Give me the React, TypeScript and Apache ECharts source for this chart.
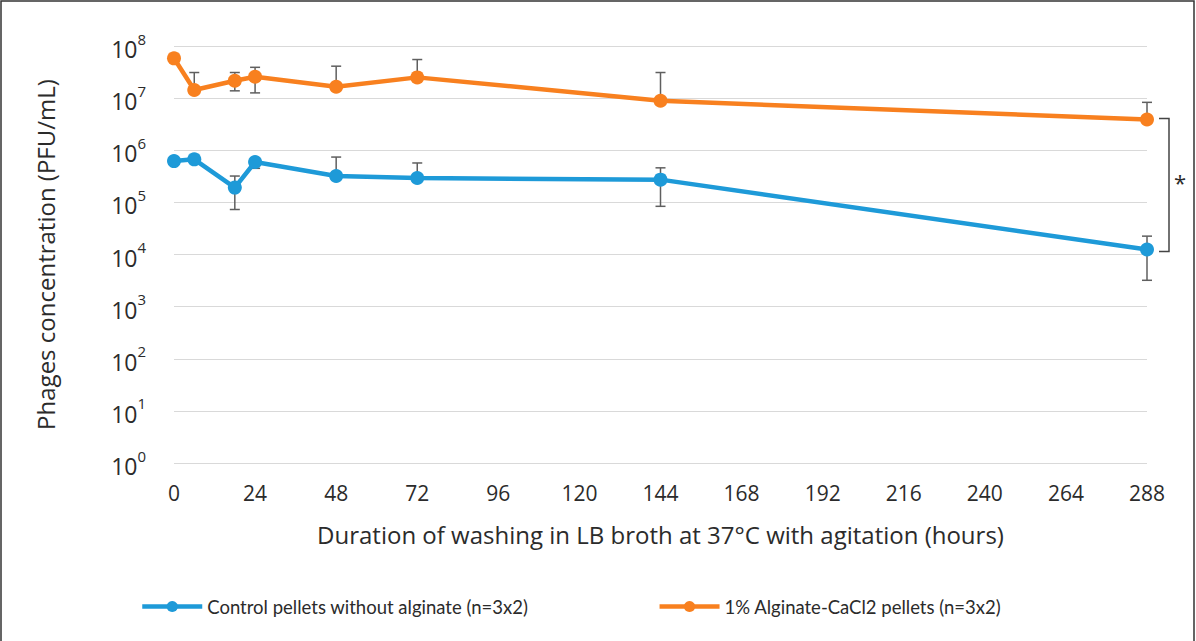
import React, { useEffect, useRef } from "react";
import * as echarts from "echarts";

const hours = [0, 6, 18, 24, 48, 72, 144, 288];
const controlValues = [6.2e5, 6.7e5, 1.92e5, 5.96e5, 3.2e5, 2.93e5, 2.73e5, 1.25e4];
const controlErrHigh = [6.2e5, 6.7e5, 3.2e5, 7.0e5, 7.4e5, 5.7e5, 4.6e5, 2.25e4];
const controlErrLow = [6.2e5, 6.7e5, 7.3e4, 4.5e5, 3.2e5, 2.93e5, 8.4e4, 3.2e3];
const alginateValues = [5.8e7, 1.43e7, 2.15e7, 2.57e7, 1.65e7, 2.5e7, 8.9e6, 3.9e6];
const alginateErrHigh = [5.8e7, 3.1e7, 3.1e7, 3.9e7, 4.1e7, 5.5e7, 3.1e7, 8.3e6];
const alginateErrLow = [5.8e7, 1.43e7, 1.38e7, 1.26e7, 1.65e7, 2.5e7, 8.9e6, 3.9e6];

const seriesNames = [
  "Control pellets without alginate (n=3x2)",
  "1% Alginate-CaCl2 pellets (n=3x2)",
];
const xTitle = "Duration of washing in LB broth at 37°C with agitation (hours)";
const yTitle = "Phages concentration (PFU/mL)";
const significanceMark = "*";

const BLUE = "#1E9AD8";
const ORANGE = "#F8801F";
const ERR = "#5f5f5f";
const FONT = "'Open Sans', 'DejaVu Sans', sans-serif";
const LEGEND_FONT = "'Liberation Sans Narrow', Lato, 'Open Sans', sans-serif";
const TEXT = "#2b2b2b";

function errorSeries(values: number[], lows: number[], highs: number[]) {
  return {
    type: "custom",
    silent: true,
    z: 1,
    data: hours.map((h, i) => [h, values[i], lows[i], highs[i]]),
    renderItem: (_params: any, api: any) => {
      const x = api.value(0);
      const v = api.value(1);
      const lo = api.value(2);
      const hi = api.value(3);
      const pv = api.coord([x, v]);
      const pl = api.coord([x, lo]);
      const ph = api.coord([x, hi]);
      const children: any[] = [];
      const style = { stroke: ERR, lineWidth: 1.5 };
      const cap = 5;
      if (hi > v) {
        children.push({ type: "line", shape: { x1: pv[0], y1: pv[1], x2: ph[0], y2: ph[1] }, style });
        children.push({ type: "line", shape: { x1: ph[0] - cap, y1: ph[1], x2: ph[0] + cap, y2: ph[1] }, style });
      }
      if (lo < v) {
        children.push({ type: "line", shape: { x1: pv[0], y1: pv[1], x2: pl[0], y2: pl[1] }, style });
        children.push({ type: "line", shape: { x1: pl[0] - cap, y1: pl[1], x2: pl[0] + cap, y2: pl[1] }, style });
      }
      return { type: "group", children };
    },
  };
}

export default function App() {
  const ref = useRef<HTMLDivElement>(null);
  useEffect(() => {
    document.body.style.margin = "0";
    const chart = echarts.init(ref.current!, null, { renderer: "svg" });
    chart.setOption({
      animation: false,
      backgroundColor: "#ffffff",
      grid: { left: 174, right: 49, top: 46, bottom: 178 },
      legend: {
        left: 135,
        top: 592,
        itemWidth: 60,
        itemHeight: 14,
        itemGap: 129,
        lineStyle: { width: 4.5 },
        textStyle: { fontSize: 18.5, fontFamily: LEGEND_FONT, color: TEXT },
        data: seriesNames,
      },
      xAxis: {
        type: "value",
        min: 0,
        max: 288,
        interval: 24,
        name: xTitle,
        nameLocation: "middle",
        nameGap: 59,
        nameTextStyle: { fontSize: 24, fontFamily: FONT, color: TEXT },
        axisLine: { show: false },
        axisTick: { show: false },
        splitLine: { show: false },
        axisLabel: { fontSize: 21, fontFamily: FONT, color: TEXT, margin: 19 },
      },
      yAxis: {
        type: "log",
        logBase: 10,
        min: 1,
        max: 1e8,
        name: yTitle,
        nameLocation: "middle",
        nameGap: 117,
        nameTextStyle: { fontSize: 24, fontFamily: FONT, color: TEXT },
        axisLine: { show: false },
        axisTick: { show: false },
        splitLine: { show: true, lineStyle: { color: "#d9d9d9", width: 1 } },
        axisLabel: {
          margin: 28,
          formatter: (v: number) => `{b|10}{s|${Math.round(Math.log10(v))}}`,
          rich: {
            b: { fontSize: 23, fontFamily: FONT, color: TEXT, lineHeight: 30, padding: [6, 0, 0, 0] },
            s: { fontSize: 15, fontFamily: FONT, color: TEXT, verticalAlign: "top", lineHeight: 16 },
          },
        },
      },
      series: [
        errorSeries(controlValues, controlErrLow, controlErrHigh),
        errorSeries(alginateValues, alginateErrLow, alginateErrHigh),
        {
          name: seriesNames[0],
          type: "line",
          z: 3,
          data: hours.map((h, i) => [h, controlValues[i]]),
          symbol: "circle",
          symbolSize: 14,
          lineStyle: { color: BLUE, width: 4.5 },
          itemStyle: { color: BLUE },
        },
        {
          name: seriesNames[1],
          type: "line",
          z: 3,
          data: hours.map((h, i) => [h, alginateValues[i]]),
          symbol: "circle",
          symbolSize: 14,
          lineStyle: { color: ORANGE, width: 4.5 },
          itemStyle: { color: ORANGE },
        },
      ],
    });

    const last = hours.length - 1;
    const pTop = chart.convertToPixel({ xAxisIndex: 0, yAxisIndex: 0 }, [hours[last], alginateValues[last]]) as number[];
    const pBot = chart.convertToPixel({ xAxisIndex: 0, yAxisIndex: 0 }, [hours[last], controlValues[last]]) as number[];
    const bx = pTop[0] + 22;
    chart.setOption({
      graphic: [
        {
          type: "rect",
          shape: { x: 1, y: 1, width: 1193, height: 700 },
          style: { fill: "none", stroke: "#333", lineWidth: 1.5 },
          silent: true,
        },
        {
          type: "polyline",
          shape: {
            points: [
              [pTop[0] + 12, pTop[1] - 1],
              [bx, pTop[1] - 1],
              [bx, pBot[1] + 2],
              [pTop[0] + 12, pBot[1] + 2],
            ],
          },
          style: { fill: "none", stroke: "#444", lineWidth: 1.5 },
          silent: true,
        },
        {
          type: "text",
          x: bx + 11,
          y: (pTop[1] + pBot[1]) / 2 - 2,
          style: {
            text: significanceMark,
            fontSize: 22,
            fontFamily: FONT,
            fill: TEXT,
            align: "center",
            verticalAlign: "middle",
          },
          silent: true,
        },
      ],
    });
    return () => chart.dispose();
  }, []);
  return <div ref={ref} style={{ position: "fixed", left: 0, top: 0, width: 1196, height: 641 }} />;
}
